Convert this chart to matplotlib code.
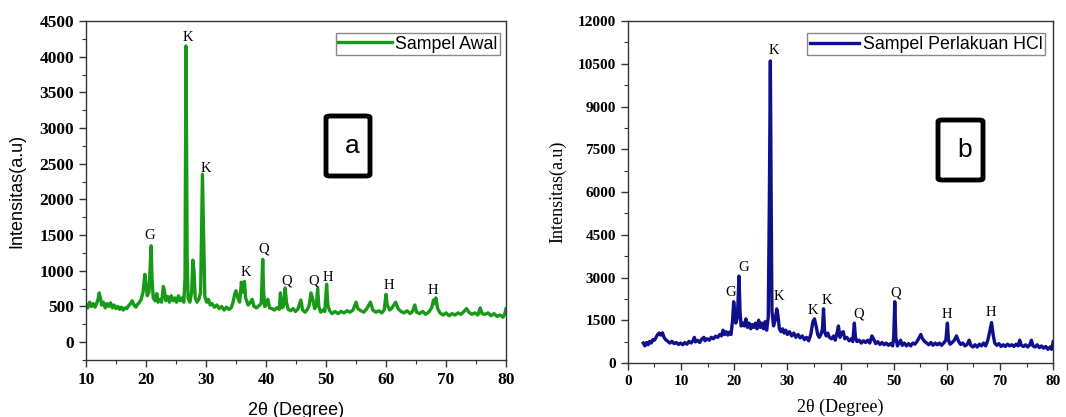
import matplotlib.pyplot as plt
from matplotlib.patches import FancyBboxPatch
from matplotlib.ticker import MultipleLocator

two_theta_a = [10.0, 10.3, 10.6, 10.9, 11.2, 11.5, 11.8, 12.0, 12.2, 12.4, 12.6, 12.9, 13.2, 13.5, 13.8,
               14.1, 14.4, 14.7, 15.0, 15.3, 15.6, 15.9, 16.2, 16.5, 16.8, 17.1, 17.4, 17.7, 18.0, 18.3,
               18.6, 18.9, 19.2, 19.5, 19.8, 20.0, 20.2, 20.5, 20.85, 21.0, 21.2, 21.5, 21.8, 22.0, 22.3,
               22.6, 22.9, 23.1, 23.3, 23.6, 23.9, 24.2, 24.5, 24.8, 25.1, 25.4, 25.7, 26.0, 26.3, 26.5,
               26.65, 26.75, 26.85, 27.0, 27.3, 27.6, 27.8, 28.0, 28.2, 28.5, 28.8, 29.1, 29.4, 29.6, 29.8,
               30.1, 30.4, 30.7, 31.0, 31.4, 31.8, 32.2, 32.6, 33.0, 33.4, 33.8, 34.2, 34.5, 34.8, 35.0,
               35.3, 35.6, 35.9, 36.1, 36.4, 36.6, 37.0, 37.4, 37.7, 38.0, 38.4, 38.8, 39.2, 39.45, 39.6,
               39.8, 40.1, 40.3, 40.6, 41.0, 41.4, 41.8, 42.2, 42.4, 42.6, 42.9, 43.2, 43.4, 43.7, 44.1,
               44.5, 44.9, 45.3, 45.8, 46.1, 46.5, 46.9, 47.2, 47.5, 47.8, 48.1, 48.4, 48.6, 48.8, 49.1,
               49.5, 49.8, 50.1, 50.3, 50.6, 51.0, 51.5, 52.0, 52.5, 53.0, 53.5, 54.0, 54.5, 55.0, 55.3,
               55.8, 56.3, 56.8, 57.4, 57.8, 58.3, 58.8, 59.3, 59.7, 60.0, 60.2, 60.6, 61.0, 61.6, 62.0,
               62.5, 63.0, 63.5, 64.0, 64.4, 64.8, 65.1, 65.6, 66.1, 66.6, 67.1, 67.6, 67.9, 68.1, 68.3,
               68.6, 69.0, 69.5, 70.0, 70.5, 71.0, 71.5, 72.0, 72.5, 73.0, 73.4, 73.8, 74.3, 74.8, 75.3,
               75.7, 76.0, 76.5, 77.0, 77.5, 78.0, 78.5, 79.0, 79.5, 79.8, 80.0]
intensity_a = [530, 480, 560, 500, 540, 490, 550, 600, 690, 620, 520, 560, 480, 540, 500,
               550, 480, 520, 470, 500, 460, 490, 450, 480, 470, 510, 540, 580, 520, 490,
               530, 560, 600, 700, 950, 820, 650, 700, 1350, 900, 620, 580, 680, 560, 600,
               560, 780, 700, 580, 640, 560, 650, 580, 620, 560, 650, 580, 620, 560, 900,
               4150, 2900, 1200, 620, 560, 700, 1150, 1000, 620, 560, 600, 700, 2350, 1500, 640,
               560, 600, 520, 540, 490, 520, 470, 500, 450, 490, 460, 480, 560, 680, 720,
               620, 560, 840, 700, 850, 620, 520, 560, 600, 500, 480, 510, 540, 1160, 700,
               500, 540, 600, 480, 470, 450, 480, 460, 690, 480, 500, 760, 560, 460, 440,
               470, 430, 460, 590, 450, 420, 460, 520, 690, 600, 470, 520, 750, 500, 420,
               450, 430, 810, 520, 440, 400, 430, 400, 430, 410, 440, 420, 450, 560, 470,
               440, 420, 470, 560, 450, 420, 440, 410, 450, 670, 520, 450, 480, 560, 470,
               430, 410, 440, 400, 430, 520, 420, 400, 430, 390, 420, 480, 590, 540, 620,
               470, 410, 380, 410, 370, 400, 380, 410, 390, 430, 470, 420, 390, 410, 380,
               480, 400, 390, 410, 370, 400, 360, 380, 350, 400, 470]

# ---- panel b : Sampel Perlakuan HCl ----
two_theta_b = [2.9, 3.2, 3.5, 3.8, 4.1, 4.4, 4.7, 5.0, 5.3, 5.6, 5.9, 6.2, 6.5, 6.8, 7.1,
               7.5, 7.9, 8.3, 8.7, 9.1, 9.5, 9.9, 10.3, 10.7, 11.1, 11.5, 11.9, 12.3, 12.5, 12.7,
               13.1, 13.5, 13.9, 14.3, 14.5, 14.9, 15.3, 15.7, 16.1, 16.5, 16.9, 17.3, 17.6, 17.9, 18.2,
               18.5, 18.8, 19.1, 19.4, 19.7, 19.9, 20.1, 20.3, 20.6, 20.9, 21.1, 21.3, 21.6, 21.9, 22.2,
               22.5, 22.8, 23.1, 23.4, 23.7, 24.0, 24.3, 24.6, 24.9, 25.2, 25.5, 25.8, 26.1, 26.4, 26.6,
               26.8, 26.95, 27.1, 27.4, 27.7, 28.0, 28.2, 28.5, 28.8, 29.1, 29.4, 29.7, 30.0, 30.4, 30.8,
               31.2, 31.6, 32.0, 32.4, 32.8, 33.2, 33.6, 34.0, 34.4, 34.8, 35.1, 35.4, 35.7, 36.0, 36.3,
               36.6, 36.8, 37.0, 37.3, 37.6, 37.9, 38.3, 38.7, 39.0, 39.4, 39.6, 39.9, 40.2, 40.5, 40.8,
               41.2, 41.6, 42.0, 42.3, 42.6, 42.8, 43.1, 43.5, 43.9, 44.3, 44.7, 45.1, 45.5, 45.9, 46.2,
               46.6, 47.0, 47.4, 47.8, 48.2, 48.6, 49.0, 49.4, 49.8, 50.0, 50.2, 50.4, 50.7, 51.0, 51.3,
               51.6, 52.0, 52.4, 52.8, 53.2, 53.6, 54.0, 54.4, 54.8, 55.1, 55.4, 55.8, 56.2, 56.6, 57.0,
               57.4, 57.8, 58.2, 58.6, 59.0, 59.4, 59.8, 60.1, 60.3, 60.6, 61.0, 61.4, 61.8, 62.2, 62.6,
               63.0, 63.4, 63.8, 64.2, 64.5, 64.9, 65.3, 65.7, 66.1, 66.5, 66.9, 67.3, 67.7, 68.0, 68.4,
               68.7, 69.0, 69.4, 69.8, 70.2, 70.6, 71.0, 71.4, 71.8, 72.2, 72.6, 73.0, 73.4, 73.7, 74.0,
               74.4, 74.8, 75.2, 75.6, 75.9, 76.2, 76.6, 77.0, 77.4, 77.8, 78.2, 78.6, 79.0, 79.4, 79.7,
               80.0]
intensity_b = [700, 600, 720, 640, 760, 700, 820, 800, 900, 1000, 1050, 980, 1060, 900, 820,
               760, 700, 760, 680, 720, 650, 700, 640, 720, 660, 760, 700, 800, 900, 740,
               800, 720, 840, 900, 780, 850, 800, 900, 850, 940, 900, 1000, 950, 1150, 1000,
               1100, 980, 1080, 1000, 1500, 2150, 1800, 1400, 1600, 3050, 1800, 1300, 1400, 1300, 1550,
               1250, 1400, 1200, 1350, 1250, 1400, 1200, 1500, 1250, 1400, 1200, 1450, 1150, 1600, 5500,
               10600, 5800, 1800, 1300, 1500, 1900, 1700, 1200, 1100, 1200, 1050, 1150, 1000, 1100, 950,
               1050, 900, 1000, 880, 950, 820, 900, 780, 1000, 1450, 1550, 1300, 1000, 900, 1000,
               1200, 1900, 1100, 950, 1050, 900, 850, 950, 800, 1100, 1300, 900, 1050, 1100, 850,
               900, 780, 850, 750, 1400, 900, 750, 800, 700, 780, 720, 800, 700, 950, 850,
               680, 750, 650, 720, 640, 700, 620, 680, 600, 900, 2150, 900, 600, 700, 800,
               620, 700, 600, 680, 600, 700, 660, 760, 900, 1000, 860, 760, 700, 640, 720,
               620, 700, 640, 700, 620, 700, 800, 1400, 800, 660, 720, 800, 950, 760, 650,
               700, 600, 650, 800, 620, 560, 640, 560, 660, 600, 700, 600, 800, 1050, 1420,
               1000, 700, 620, 680, 580, 640, 580, 660, 600, 640, 580, 660, 600, 800, 620,
               580, 640, 560, 640, 800, 600, 560, 640, 540, 600, 520, 580, 480, 560, 480,
               750]

# peak labels (position, height, phase letter)
labels_a = [(20.6, 1490, 'G'), (27.0, 4270, 'K'), (30.0, 2440, 'K'), (36.6, 975, 'K'),
            (39.6, 1300, 'Q'), (43.4, 860, 'Q'), (48.0, 850, 'Q'), (50.3, 910, 'H'),
            (60.4, 790, 'H'), (67.8, 725, 'H')]
labels_b = [(19.3, 2470, 'G'), (21.8, 3350, 'G'), (27.5, 10960, 'K'), (28.4, 2340, 'K'),
            (34.8, 1830, 'K'), (37.4, 2180, 'K'), (43.5, 1710, 'Q'), (50.3, 2460, 'Q'),
            (60.0, 1700, 'H'), (68.2, 1770, 'H')]

serif = 'Liberation Serif'
sans = 'Liberation Sans'

fig = plt.figure(figsize=(10.66, 4.17), dpi=100)
ax1 = fig.add_axes([0.0807, 0.1367, 0.394, 0.813])
ax2 = fig.add_axes([0.589, 0.1295, 0.399, 0.820])


def style_axis(ax, xmaj, xmin, ymaj, ymin, fs):
    ax.xaxis.set_major_locator(MultipleLocator(xmaj))
    ax.xaxis.set_minor_locator(MultipleLocator(xmin))
    ax.yaxis.set_major_locator(MultipleLocator(ymaj))
    ax.yaxis.set_minor_locator(MultipleLocator(ymin))
    ax.tick_params(which='both', direction='out', top=False, right=False, color='#333333')
    ax.tick_params(which='major', length=5, width=1)
    ax.tick_params(which='minor', length=3, width=0.8)
    for lbl in ax.get_xticklabels() + ax.get_yticklabels():
        lbl.set_fontfamily(serif)
        lbl.set_fontweight('bold')
        lbl.set_fontsize(fs)
    for s in ax.spines.values():
        s.set_linewidth(1.0)
        s.set_color('#333333')


# panel a
ax1.plot(two_theta_a, intensity_a, color='#189a18', lw=2.4, label='Sampel Awal')
ax1.set_xlim(10, 80)
ax1.set_ylim(-250, 4500)
style_axis(ax1, 10, 5, 500, 250, 12.5)
ax1.set_ylabel('Intensitas(a.u)', fontfamily=sans, fontsize=13, labelpad=10)
ax1.set_xlabel('2θ (Degree)', fontfamily=sans, fontsize=13, labelpad=10)
for x, y, t in labels_a:
    ax1.text(x, y, t, ha='center', va='center', fontfamily=serif, fontsize=10.5)
ax1.legend(loc='upper right', bbox_to_anchor=(0.995, 0.975), fancybox=False, framealpha=1,
           edgecolor='#888888', prop={'family': sans, 'size': 12.8}, handlelength=3.0,
           handletextpad=0.2, borderpad=0.15, borderaxespad=0.2)

# panel b
ax2.plot(two_theta_b, intensity_b, color='#10108c', lw=2.4, label='Sampel Perlakuan HCl')
ax2.set_xlim(0, 80)
ax2.set_ylim(0, 12000)
style_axis(ax2, 10, 5, 1500, 750, 11)
ax2.set_ylabel('Intensitas(a.u)', fontfamily=serif, fontsize=13, labelpad=8)
ax2.set_xlabel('2θ (Degree)', fontfamily=serif, fontsize=13, labelpad=8)
for x, y, t in labels_b:
    ax2.text(x, y, t, ha='center', va='center', fontfamily=serif, fontsize=10.5)
ax2.legend(loc='upper right', bbox_to_anchor=(0.99, 0.975), fancybox=False, framealpha=1,
           edgecolor='#888888', prop={'family': sans, 'size': 12.8}, handlelength=2.8,
           handletextpad=0.2, borderpad=0.15, borderaxespad=0.2)

# boxed panel letters
for (x0, y0, w, h, letter) in [(326, 116, 44, 60, 'a'), (938, 120, 45, 60, 'b')]:
    box = FancyBboxPatch((x0 / 1066, 1 - (y0 + h) / 417), w / 1066, h / 417,
                         boxstyle='round,pad=0,rounding_size=0.004', transform=fig.transFigure,
                         fill=False, lw=3.5, ec='black')
    fig.patches.append(box)
    fig.text((x0 + w * 0.6) / 1066, 1 - (y0 + h * 0.5) / 417, letter, ha='center', va='center',
             fontfamily=sans, fontsize=19)

fig.savefig('out.png', dpi=100)
